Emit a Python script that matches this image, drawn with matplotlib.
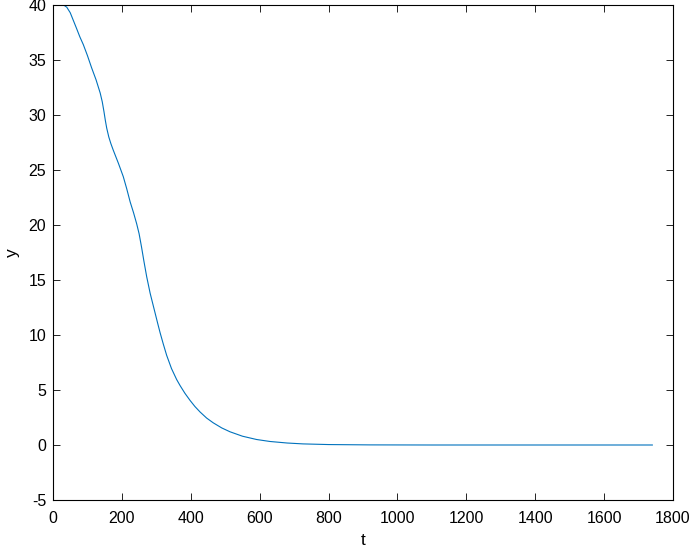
import matplotlib.pyplot as plt
import numpy as np

plt.rcParams['font.family'] = ['Liberation Sans', 'DejaVu Sans']
plt.rcParams['axes.unicode_minus'] = False

# values
t = [0, 10, 25, 33, 40, 50, 59, 68, 78, 88, 100, 112, 125, 137, 143, 148, 152,
     156, 162, 168, 175, 190, 204, 214, 224, 234, 243, 250, 257, 264, 272, 282,
     290, 296, 304, 311, 320, 330, 344, 359, 369, 383, 398, 412, 427, 446, 465,
     490, 514, 550, 591, 630, 680, 726, 800, 920, 1100, 1300, 1500, 1740]
y = [40.0, 40.0, 40.0, 39.95, 39.8, 39.3, 38.6, 37.9, 37.1, 36.4, 35.4, 34.3,
     33.2, 32.0, 31.2, 30.3, 29.5, 28.8, 28.0, 27.4, 26.8, 25.6, 24.4, 23.3,
     22.1, 21.1, 20.1, 19.2, 18.0, 16.7, 15.3, 13.8, 12.8, 12.05, 11.05, 10.2,
     9.2, 8.15, 6.95, 5.95, 5.4, 4.7, 4.05, 3.5, 3.0, 2.45, 2.02, 1.55, 1.2,
     0.8, 0.5, 0.32, 0.18, 0.1, 0.04, 0.01, 0.0, 0.0, 0.0, 0.0]

xTicks = np.arange(0, 1801, 200)
yTicks = np.arange(-5, 41, 5)

fig = plt.figure(figsize=(6.98, 5.58), dpi=100)
ax = fig.add_axes([53 / 698, 1 - 500 / 558, 620 / 698, 495 / 558])

ax.plot(t, y, color='#0072BD', linewidth=0.8)

ax.set_xlim(0, 1800)
ax.set_ylim(-5, 40)
ax.set_xticks(xTicks)
ax.set_yticks(yTicks)
ax.tick_params(direction='in', top=True, right=True, labelsize=11.5,
               length=5, width=0.6)
ax.tick_params(axis='x', pad=8)
ax.tick_params(axis='y', pad=5)
for s in ax.spines.values():
    s.set_linewidth(0.8)

ax.set_xlabel('t', fontsize=12.5, labelpad=5)
ax.set_ylabel('y', fontsize=12.5, labelpad=6)

fig.savefig('out.png', dpi=100)
